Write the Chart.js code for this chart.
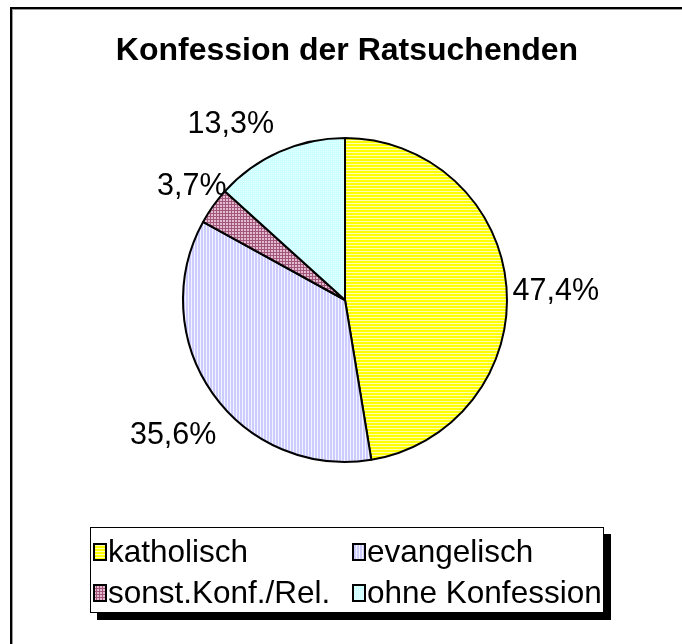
<!DOCTYPE html>
<html>
<head>
<meta charset="utf-8">
<script src="https://cdn.jsdelivr.net/npm/chart.js@4"></script>
<style>
  html, body { margin: 0; padding: 0; background: #fff; }
  #wrap { position: relative; width: 682px; height: 644px; }
</style>
</head>
<body>
<div id="wrap"><canvas id="chart-konf" width="682" height="644"></canvas></div>
<script>
// Konfession der Ratsuchenden - pie with Excel-like hatched fills

const CATEGORIES = ['katholisch', 'evangelisch', 'sonst.Konf./Rel.', 'ohne Konfession'];
const SHARES = [47.4, 35.6, 3.7, 13.3];
const TITLE = 'Konfession der Ratsuchenden';

const FONT = '"Liberation Sans", Arial, sans-serif';

function makePattern(w, h, draw) {
    const c = document.createElement('canvas');
    c.width = w;
    c.height = h;
    const g = c.getContext('2d');
    draw(g);
    return g.createPattern(c, 'repeat');
}

// light horizontal lines on yellow
const yellowFill = makePattern(1, 3, g => {
    g.fillStyle = '#ffff00';
    g.fillRect(0, 0, 1, 3);
    g.fillStyle = '#ffffb4';
    g.fillRect(0, 2, 1, 1);
});
// light vertical lines on lavender
const lavenderFill = makePattern(3, 1, g => {
    g.fillStyle = '#ccccff';
    g.fillRect(0, 0, 3, 1);
    g.fillStyle = '#f4f4ff';
    g.fillRect(2, 0, 1, 1);
});
// small grid on plum
const plumFill = makePattern(3, 3, g => {
    g.fillStyle = '#e4bcd0';
    g.fillRect(0, 0, 3, 3);
    g.fillStyle = '#a2567c';
    g.fillRect(0, 0, 3, 1);
    g.fillRect(0, 0, 1, 3);
});
// dotted light cyan
const cyanFill = makePattern(2, 2, g => {
    g.fillStyle = '#ccffff';
    g.fillRect(0, 0, 2, 2);
    g.fillStyle = '#e8ffff';
    g.fillRect(1, 1, 1, 1);
});

const FILLS = [yellowFill, lavenderFill, plumFill, cyanFill];

function fmtPct(v) {
    return v.toFixed(1).replace('.', ',') + '%';
}

// frame, title and legend box
const decorPlugin = {
    id: 'decor',
    beforeDraw(chart) {
        const ctx = chart.ctx;
        ctx.save();
        ctx.fillStyle = '#fff';
        ctx.fillRect(0, 0, chart.width, chart.height);
        // outer frame (only top/left visible in the picture)
        ctx.fillStyle = '#000';
        ctx.fillRect(10, 7, chart.width, 2);
        ctx.fillRect(10, 7, 2, chart.height);
        ctx.fillStyle = '#9a9a9a';
        ctx.fillRect(12, 9, chart.width, 1);
        ctx.fillRect(12, 9, 1, chart.height);

        ctx.fillStyle = '#000';
        ctx.font = 'bold 32px ' + FONT;
        ctx.textAlign = 'center';
        ctx.textBaseline = 'middle';
        ctx.fillText(TITLE, 347, 51);
        ctx.restore();
    },
    afterDraw(chart) {
        const ctx = chart.ctx;
        const box = { l: 90, t: 527, r: 604, b: 613 };
        ctx.save();
        ctx.fillStyle = '#000';
        ctx.fillRect(box.l + 7, box.t + 7, box.r - box.l, box.b - box.t);
        ctx.fillStyle = '#fff';
        ctx.fillRect(box.l, box.t, box.r - box.l, box.b - box.t);
        ctx.strokeStyle = '#000';
        ctx.lineWidth = 1;
        ctx.strokeRect(box.l + 0.5, box.t + 0.5, box.r - box.l - 1, box.b - box.t - 1);

        const ds = chart.data.datasets[0];
        const colX = [box.l + 4, box.l + 263];
        const rowY = [552, 593];
        ctx.font = '31.5px ' + FONT;
        ctx.textBaseline = 'middle';
        ctx.textAlign = 'left';
        chart.data.labels.forEach((lab, i) => {
            const x = colX[i % 2];
            const y = rowY[Math.floor(i / 2)];
            ctx.fillStyle = ds.backgroundColor[i];
            ctx.fillRect(x, y - 8, 12, 16);
            ctx.lineWidth = 2;
            ctx.strokeStyle = '#000';
            ctx.strokeRect(x, y - 8, 12, 16);
            ctx.fillStyle = '#000';
            ctx.fillText(lab, x + 14, y + 1);
        });
        ctx.restore();
    },
};

// percentage labels outside the slices; each label sits on a ray near the
// slice's mid angle (turn in degrees, gap in px beyond the rim)
const pctLabels = {
    id: 'pctLabels',
    afterDatasetsDraw(chart, args, opts) {
        const ctx = chart.ctx;
        const meta = chart.getDatasetMeta(0);
        const values = chart.data.datasets[0].data;
        ctx.save();
        ctx.font = '30.5px ' + FONT;
        ctx.fillStyle = '#000';
        ctx.textAlign = 'center';
        ctx.textBaseline = 'middle';
        meta.data.forEach((arc, i) => {
            const p = arc.getProps(['x', 'y', 'startAngle', 'endAngle', 'outerRadius'], true);
            const place = opts.place[i];
            const a = (p.startAngle + p.endAngle) / 2 + place.turn * Math.PI / 180;
            const d = p.outerRadius + place.gap;
            ctx.fillText(fmtPct(values[i]), p.x + Math.cos(a) * d, p.y + Math.sin(a) * d + 1);
        });
        ctx.restore();
    },
};

new Chart(document.getElementById('chart-konf'), {
    type: 'pie',
    data: {
        labels: CATEGORIES,
        datasets: [{
            data: SHARES,
            backgroundColor: FILLS,
            borderColor: '#000',
            borderWidth: 2,
        }],
    },
    options: {
        responsive: false,
        animation: false,
        layout: {
            padding: { left: 182, right: 174, top: 137, bottom: 181 },
        },
        plugins: {
            legend: { display: false },
            title: { display: false },
            tooltip: { enabled: false },
            pctLabels: {
                place: [
                    { turn: 2, gap: 49 },
                    { turn: -2.7, gap: 56 },
                    { turn: 1.2, gap: 29 },
                    { turn: -9, gap: 48 },
                ],
            },
        },
    },
    plugins: [decorPlugin, pctLabels],
});
</script>
</body>
</html>
